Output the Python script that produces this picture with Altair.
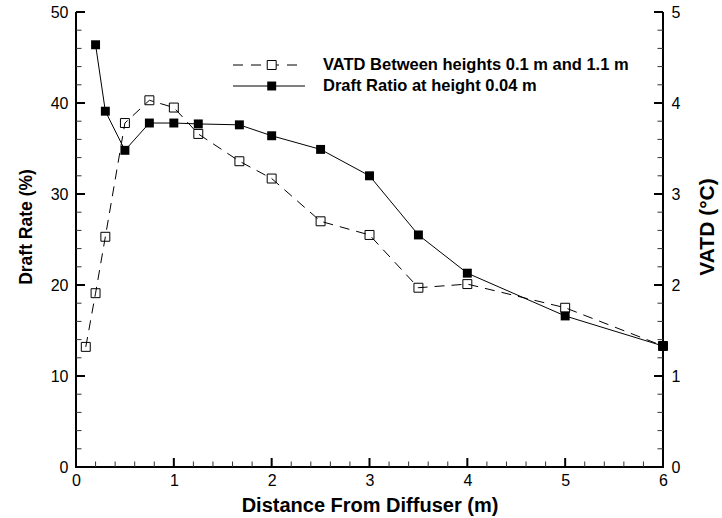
import altair as alt
import pandas as pd

# ---- data ----
x_vatd = [0.1, 0.2, 0.3, 0.5, 0.75, 1.0, 1.25, 1.67, 2.0, 2.5, 3.0, 3.5, 4.0, 5.0, 6.0]
vatd = [1.32, 1.91, 2.53, 3.78, 4.03, 3.95, 3.66, 3.36, 3.17, 2.70, 2.55, 1.97, 2.01, 1.75, 1.33]

x_draft = [0.2, 0.3, 0.5, 0.75, 1.0, 1.25, 1.67, 2.0, 2.5, 3.0, 3.5, 4.0, 5.0, 6.0]
draft = [46.4, 39.1, 34.8, 37.8, 37.8, 37.7, 37.6, 36.4, 34.9, 32.0, 25.5, 21.3, 16.6, 13.3]

x_major = [0, 1, 2, 3, 4, 5, 6]
x_minor = [0.2, 0.4, 0.6, 0.8, 1.2, 1.4, 1.6, 1.8, 2.2, 2.4, 2.6, 2.8, 3.2, 3.4, 3.6, 3.8,
           4.2, 4.4, 4.6, 4.8, 5.2, 5.4, 5.6, 5.8]
left_major = [0, 10, 20, 30, 40, 50]
left_minor = [2, 4, 6, 8, 12, 14, 16, 18, 22, 24, 26, 28, 32, 34, 36, 38, 42, 44, 46, 48]
right_major = [0, 1, 2, 3, 4, 5]
right_minor = [0.2, 0.4, 0.6, 0.8, 1.2, 1.4, 1.6, 1.8, 2.2, 2.4, 2.6, 2.8, 3.2, 3.4, 3.6, 3.8,
               4.2, 4.4, 4.6, 4.8]

legend_labels = ["VATD Between heights 0.1 m and 1.1 m", "Draft Ratio at height 0.04 m"]

x_title = "Distance From Diffuser (m)"
left_title = "Draft Rate (%)"
right_title = "VATD (°C)"

# ---- layout ----
W, H = 587, 455
FONT = "Liberation Sans"
MAJ, MIN = 9, 5.5

df_draft = pd.DataFrame({"x": x_draft, "v": draft})
df_vatd = pd.DataFrame({"x": x_vatd, "v": vatd})

xscale = alt.Scale(domain=[0, 6], nice=False, zero=False)
lscale = alt.Scale(domain=[0, 50], nice=False, zero=False)
rscale = alt.Scale(domain=[0, 5], nice=False, zero=False)

common_axis = dict(
    ticks=False, domain=False, grid=False,
    labelFont=FONT, labelFontSize=16, labelColor="black", labelFlush=False,
    titleFont=FONT, titleFontWeight="bold", titleColor="black",
)

x_axis = alt.Axis(values=x_major, labelPadding=5, title=x_title,
                  titleFontSize=20, titleBaseline="alphabetic", titleAlign="center",
                  titleX=W / 2, titleY=44, **common_axis)
left_axis = alt.Axis(orient="left", values=left_major, labelPadding=8,
                     title=left_title, titleFontSize=17.5, titleAngle=270,
                     titleAlign="center", titleBaseline="middle",
                     titleX=-50, titleY=214.5, **common_axis)
right_axis = alt.Axis(orient="right", values=right_major, labelPadding=8,
                      title=right_title, titleFontSize=21, titleAngle=270,
                      titleAlign="center", titleBaseline="middle",
                      titleX=44, titleY=214.5, **common_axis)

# identical x axis definition on every x layer so the shared axis merges cleanly
X = alt.X("x:Q", scale=xscale, axis=x_axis)
YL = alt.Y("v:Q", scale=lscale, axis=None)
YR = alt.Y("v:Q", scale=rscale, axis=None)

# ---- data marks ----
draft_line = alt.Chart(df_draft).mark_line(color="black", strokeWidth=1).encode(
    x=X, y=alt.Y("v:Q", scale=lscale, axis=left_axis))
draft_pts = alt.Chart(df_draft).mark_point(
    shape="square", filled=True, color="black", size=80, opacity=1).encode(x=X, y=YL)

vatd_line = alt.Chart(df_vatd).mark_line(
    color="black", strokeWidth=1, strokeDash=[10, 7]).encode(
    x=X, y=alt.Y("v:Q", scale=rscale, axis=right_axis))
vatd_pts = alt.Chart(df_vatd).mark_point(
    shape="square", filled=False, color="black", strokeWidth=1, size=80, opacity=1).encode(
    x=X, y=YR)

# ---- frame lines (axis domains) ----
one = pd.DataFrame({"a": [0]})
dom_left = alt.Chart(one).mark_rule(color="black", strokeWidth=2).encode(
    x=alt.value(0), y=alt.value(0), y2=alt.value(H + 1))
dom_right = alt.Chart(one).mark_rule(color="black", strokeWidth=2).encode(
    x=alt.value(W), y=alt.value(0), y2=alt.value(H + 1))
dom_bottom = alt.Chart(one).mark_rule(color="black", strokeWidth=2).encode(
    x=alt.value(-1), x2=alt.value(W + 1), y=alt.value(H))

# ---- inward tick marks ----
xt_major = alt.Chart(pd.DataFrame({"x": x_major})).mark_rule(
    color="black", strokeWidth=2).encode(x=X, y=alt.value(H), y2=alt.value(H - MAJ))
xt_minor = alt.Chart(pd.DataFrame({"x": x_minor})).mark_rule(
    color="#333333", strokeWidth=1).encode(x=X, y=alt.value(H), y2=alt.value(H - MIN))
lt_major = alt.Chart(pd.DataFrame({"v": left_major})).mark_rule(
    color="black", strokeWidth=2).encode(y=YL, x=alt.value(0), x2=alt.value(MAJ))
lt_minor = alt.Chart(pd.DataFrame({"v": left_minor})).mark_rule(
    color="#333333", strokeWidth=1).encode(y=YL, x=alt.value(0), x2=alt.value(MIN))
rt_major = alt.Chart(pd.DataFrame({"v": right_major})).mark_rule(
    color="black", strokeWidth=2).encode(y=YR, x=alt.value(W), x2=alt.value(W - MAJ))
rt_minor = alt.Chart(pd.DataFrame({"v": right_minor})).mark_rule(
    color="#333333", strokeWidth=1).encode(y=YR, x=alt.value(W), x2=alt.value(W - MIN))

# ---- manual legend ----
LX1, LX2, LXS, LXT = 157, 229, 195.7, 247
LY1, LY2 = 53, 74
leg_dash = alt.Chart(one).mark_rule(color="black", strokeWidth=1, strokeDash=[10, 8]).encode(
    x=alt.value(LX1), x2=alt.value(LX2), y=alt.value(LY1))
leg_sq1 = alt.Chart(one).mark_point(shape="square", filled=True, fill="white",
                                    stroke="black", strokeWidth=1, size=80, opacity=1).encode(
    x=alt.value(LXS), y=alt.value(LY1))
leg_solid = alt.Chart(one).mark_rule(color="black", strokeWidth=1).encode(
    x=alt.value(LX1), x2=alt.value(LX2), y=alt.value(LY2))
leg_sq2 = alt.Chart(one).mark_point(shape="square", filled=True, color="black",
                                    size=80, opacity=1).encode(
    x=alt.value(LXS), y=alt.value(LY2))
leg_t1 = alt.Chart(one).mark_text(align="left", baseline="middle", font=FONT,
                                  fontWeight="bold", fontSize=16.5, color="black").encode(
    x=alt.value(LXT), y=alt.value(LY1), text=alt.value(legend_labels[0]))
leg_t2 = alt.Chart(one).mark_text(align="left", baseline="middle", font=FONT,
                                  fontWeight="bold", fontSize=16.5, color="black").encode(
    x=alt.value(LXT), y=alt.value(LY2), text=alt.value(legend_labels[1]))

chart = alt.layer(
    draft_line, vatd_line,
    dom_left, dom_right, dom_bottom,
    xt_major, xt_minor, lt_major, lt_minor, rt_major, rt_minor,
    vatd_pts, draft_pts,
    leg_dash, leg_sq1, leg_solid, leg_sq2, leg_t1, leg_t2
).resolve_scale(y="independent").properties(
    width=W, height=H,
    autosize=alt.AutoSizeParams(type="none"),
    padding={"left": 76, "top": 12, "right": 59, "bottom": 51},
    background="white",
).configure_view(stroke=None)

chart.save("out.html", embed_options={"renderer": "svg", "actions": False})
